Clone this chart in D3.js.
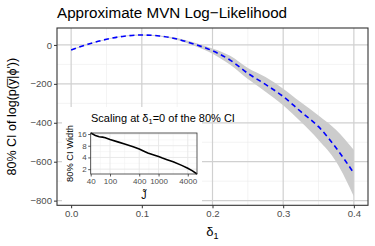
<!DOCTYPE html>
<html>
<head>
<meta charset="utf-8">
<script src="https://cdn.jsdelivr.net/npm/d3@7"></script>
<style>
  html, body { margin: 0; padding: 0; background: #fff; }
  svg { display: block; font-family: "Liberation Sans", Arial, sans-serif; }
</style>
</head>
<body>
<svg id="chart" width="375" height="246"></svg>
<script>
// ---- data ----
const delta = [0, 0.025, 0.05, 0.075, 0.1, 0.125, 0.15, 0.175, 0.2, 0.225, 0.25, 0.275, 0.3, 0.325, 0.35, 0.375, 0.4];
const estimate = [-26, 5, 29, 45, 51, 46, 30, 3, -30, -78, -146, -203, -265, -343, -420, -530, -659];
const ciLower = [-28, 3, 27, 43, 49, 43, 25, -5, -45, -102, -175, -240, -310, -395, -488, -600, -779];
const ciUpper = [-24, 7, 31, 47, 53, 49, 35, 11, -18, -56, -118, -165, -225, -295, -362, -437, -540];
const xTicks = [0, 0.1, 0.2, 0.3, 0.4];
const xMinor = [0.05, 0.15, 0.25, 0.35];
const yTicks = [0, -200, -400, -600, -800];
const yMinor = [-100, -300, -500, -700];

const insetJ = [40, 45, 50, 60, 70, 80, 100, 150, 200, 300, 400, 500, 600, 800, 1000, 1200, 1500, 2000, 3000, 4000, 5000, 6200];
const insetWidth = [17.0, 15.8, 14.6, 13.6, 13.3, 12.9, 11.5, 9.9, 8.9, 7.5, 6.6, 5.8, 5.2, 4.6, 4.2, 3.85, 3.5, 3.1, 2.5, 2.1, 1.8, 1.5];
const insetXTicks = [40, 100, 400, 1000, 4000];
const insetXMinor = [63.2, 200, 632, 2000];
const insetYTicks = [2, 4, 8, 16];
const insetYMinor = [2.83, 5.66, 11.3];

const svg = d3.select("#chart");
const P = { l: 57, r: 368, t: 28, b: 205.3 };
const x = d3.scaleLinear().domain([-0.02, 0.42]).range([P.l, P.r]);
const y = d3.scaleLinear().domain([-824, 87]).range([P.b, P.t]);

// title
svg.append("text").attr("x", 57).attr("y", 18).attr("font-size", 15.2).attr("fill", "#000")
  .text("Approximate MVN Log\u2212Likelihood");

// panel bg
svg.append("rect").attr("x", P.l).attr("y", P.t).attr("width", P.r - P.l).attr("height", P.b - P.t).attr("fill", "#fff");

const grid = svg.append("g");
xMinor.forEach(v => grid.append("line").attr("x1", x(v)).attr("x2", x(v)).attr("y1", P.t).attr("y2", P.b).attr("stroke", "#ebebeb").attr("stroke-width", 0.6));
yMinor.forEach(v => grid.append("line").attr("y1", y(v)).attr("y2", y(v)).attr("x1", P.l).attr("x2", P.r).attr("stroke", "#ebebeb").attr("stroke-width", 0.6));
xTicks.forEach(v => grid.append("line").attr("x1", x(v)).attr("x2", x(v)).attr("y1", P.t).attr("y2", P.b).attr("stroke", "#d0d0d0").attr("stroke-width", 1.2));
yTicks.forEach(v => grid.append("line").attr("y1", y(v)).attr("y2", y(v)).attr("x1", P.l).attr("x2", P.r).attr("stroke", "#d0d0d0").attr("stroke-width", 1.2));

// band
const rows = delta.map((d, i) => ({ d, e: estimate[i], lo: ciLower[i], hi: ciUpper[i] }));
svg.append("path").datum(rows)
  .attr("d", d3.area().x(r => x(r.d)).y0(r => y(r.lo)).y1(r => y(r.hi)).curve(d3.curveMonotoneX))
  .attr("fill", "#cccccc");
svg.append("path").datum(rows)
  .attr("d", d3.line().x(r => x(r.d)).y(r => y(r.e)).curve(d3.curveMonotoneX))
  .attr("fill", "none").attr("stroke", "#0000ff").attr("stroke-width", 1.6).attr("stroke-dasharray", "5,3.6");

// axes
const xAxis = svg.append("g").attr("transform", `translate(0,${P.b})`)
  .call(d3.axisBottom(x).tickValues(xTicks).tickFormat(d3.format(".1f")).tickSize(3).tickPadding(2));
const yAxis = svg.append("g").attr("transform", `translate(${P.l},0)`)
  .call(d3.axisLeft(y).tickValues(yTicks).tickFormat(d => d < 0 ? "\u2212" + Math.abs(d) : String(d)).tickSize(3).tickPadding(2));
[xAxis, yAxis].forEach(a => {
  a.select(".domain").remove();
  a.selectAll(".tick line").attr("stroke", "#333").attr("stroke-width", 1);
  a.selectAll(".tick text").attr("fill", "#4d4d4d").attr("font-size", 9.6).attr("font-family", "Liberation Sans, Arial, sans-serif");
});

// axis titles
const xt = svg.append("text").attr("x", (P.l + P.r) / 2).attr("y", 236).attr("text-anchor", "middle").attr("font-size", 13);
xt.append("tspan").text("\u03b4");
xt.append("tspan").attr("font-size", 9).attr("dy", 3).text("1");

svg.append("text").attr("transform", `translate(16,${(P.t + P.b) / 2}) rotate(-90)`)
  .attr("text-anchor", "middle").attr("font-size", 12.5)
  .text("80% CI of log(p(y\u0305|\u03d5'))");

// ---- inset ----
const ins = svg.append("g");
ins.append("rect").attr("x", 62).attr("y", 107).attr("width", 140).attr("height", 98).attr("fill", "#fff");
const IP = { l: 90.7, r: 197, t: 133, b: 174 };
const ix = d3.scaleLog().domain([40, 6200]).range([IP.l, IP.r]);
const iy = d3.scaleLog().domain([1.5, 17]).range([IP.b, IP.t]);

const it = ins.append("text").attr("x", 91).attr("y", 122).attr("font-size", 11);
it.append("tspan").text("Scaling at \u03b4");
it.append("tspan").attr("font-size", 7.5).attr("dy", 2).text("1");
it.append("tspan").attr("dy", -2).text("=0 of the 80% CI");

const ig = ins.append("g");
insetXMinor.forEach(v => ig.append("line").attr("x1", ix(v)).attr("x2", ix(v)).attr("y1", IP.t).attr("y2", IP.b).attr("stroke", "#f0f0f0").attr("stroke-width", 0.5));
insetYMinor.forEach(v => ig.append("line").attr("y1", iy(v)).attr("y2", iy(v)).attr("x1", IP.l).attr("x2", IP.r).attr("stroke", "#f0f0f0").attr("stroke-width", 0.5));
insetXTicks.forEach(v => ig.append("line").attr("x1", ix(v)).attr("x2", ix(v)).attr("y1", IP.t).attr("y2", IP.b).attr("stroke", "#e6e6e6").attr("stroke-width", 0.9));
insetYTicks.forEach(v => ig.append("line").attr("y1", iy(v)).attr("y2", iy(v)).attr("x1", IP.l).attr("x2", IP.r).attr("stroke", "#e6e6e6").attr("stroke-width", 0.9));

ins.append("path").datum(insetJ.map((j, i) => [j, insetWidth[i]]))
  .attr("d", d3.line().x(p => ix(p[0])).y(p => iy(p[1])))
  .attr("fill", "none").attr("stroke", "#000").attr("stroke-width", 1.6);

const ixa = ins.append("g").attr("transform", `translate(0,${IP.b})`)
  .call(d3.axisBottom(ix).tickValues(insetXTicks).tickFormat(d3.format("d")).tickSize(2.5).tickPadding(1.5));
const iya = ins.append("g").attr("transform", `translate(${IP.l},0)`)
  .call(d3.axisLeft(iy).tickValues(insetYTicks).tickFormat(d3.format("d")).tickSize(2.5).tickPadding(1.5));
[ixa, iya].forEach(a => {
  a.select(".domain").remove();
  a.selectAll(".tick line").attr("stroke", "#333").attr("stroke-width", 0.8);
  a.selectAll(".tick text").attr("fill", "#4d4d4d").attr("font-size", 8).attr("font-family", "Liberation Sans, Arial, sans-serif");
});
ins.append("rect").attr("x", IP.l).attr("y", IP.t).attr("width", IP.r - IP.l).attr("height", IP.b - IP.t)
  .attr("fill", "none").attr("stroke", "#333").attr("stroke-width", 0.8);

ins.append("text").attr("x", (IP.l + IP.r) / 2).attr("y", 199).attr("text-anchor", "middle").attr("font-size", 10.5)
  .text("J\u0303");
ins.append("text").attr("transform", `translate(73,${(IP.t + IP.b) / 2}) rotate(-90)`)
  .attr("text-anchor", "middle").attr("font-size", 9.3).text("80% CI Width");

// main panel border on top
svg.append("rect").attr("x", P.l).attr("y", P.t).attr("width", P.r - P.l).attr("height", P.b - P.t)
  .attr("fill", "none").attr("stroke", "#333").attr("stroke-width", 1.1);
</script>
</body>
</html>
